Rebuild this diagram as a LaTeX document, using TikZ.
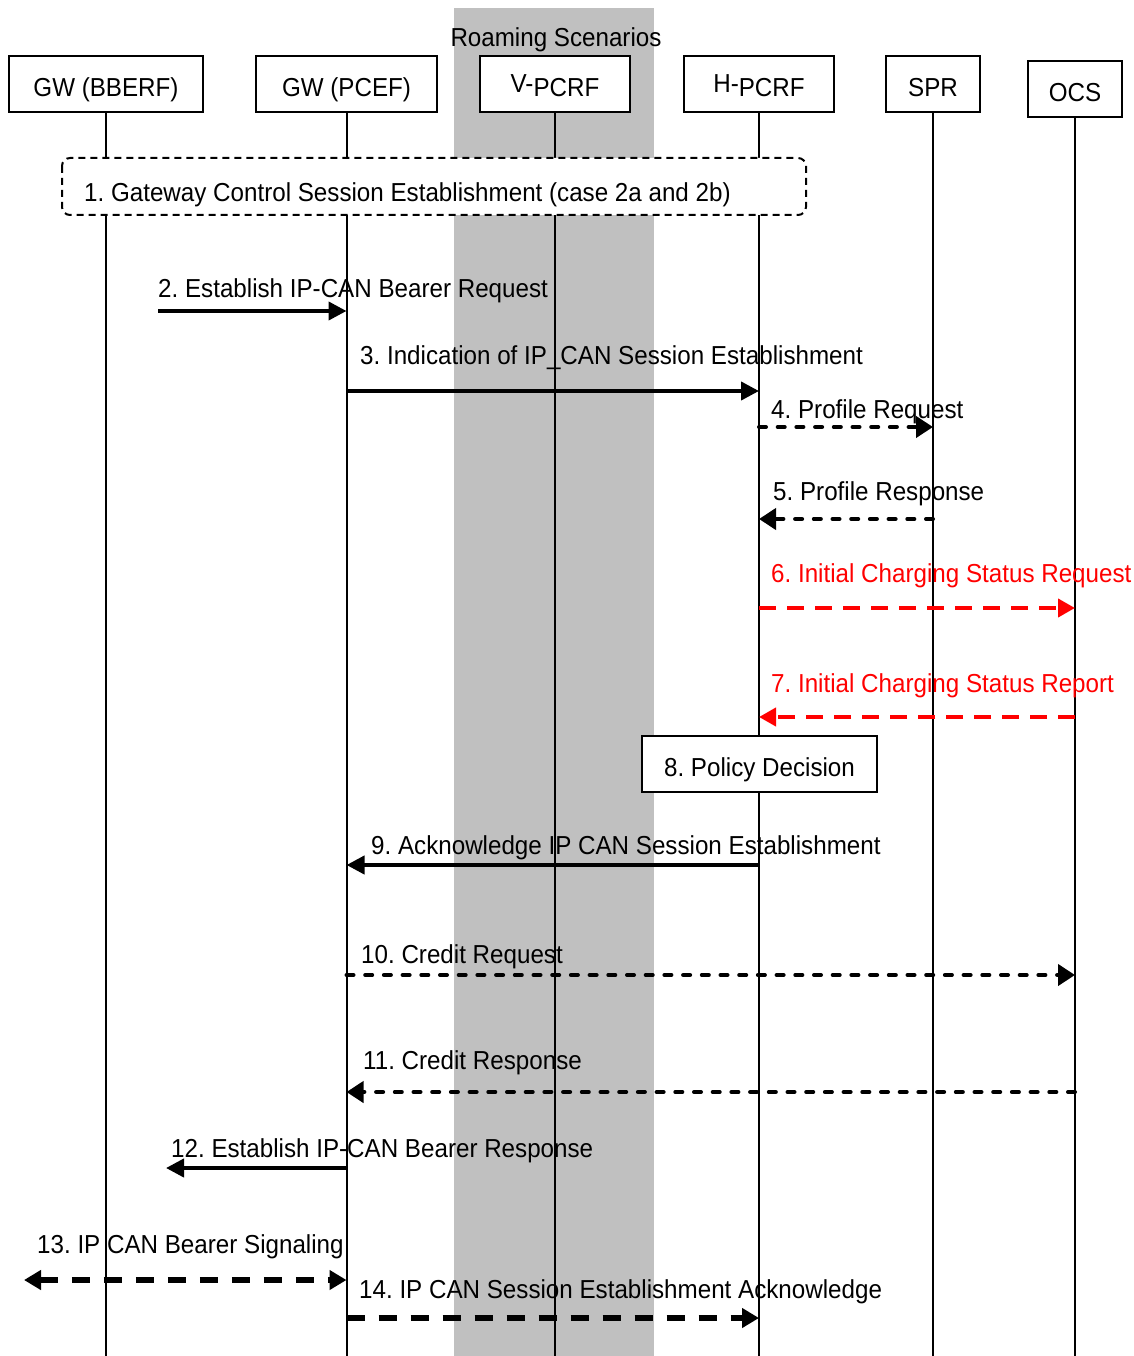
\documentclass[tikz,border=0pt]{standalone}
\usepackage{fontspec}
\setmainfont{Liberation Sans}[FakeStretch=0.93]
\usetikzlibrary{arrows.meta}
\definecolor{bandgray}{RGB}{192,192,192}
\definecolor{msgred}{RGB}{255,0,0}
\frenchspacing
\begin{document}
\begin{tikzpicture}[x=1pt,y=-1pt,
  every node/.style={font=\fontsize{26}{30}\selectfont, inner sep=0pt},
  entity/.style={draw, line width=2pt, fill=white, minimum height=56pt,
    text height=26pt, text depth=0pt},
  lifeline/.style={line width=2pt},
  lbl/.style={anchor=base west},
  solidmsg/.style={line width=4pt, -{Triangle[length=18pt,width=18pt]}},
  shortdash/.style={line width=4pt, line cap=round, dash pattern=on 7pt off 11.7pt,
    -{Triangle[length=17pt,width=21pt]}},
  reddash/.style={msgred, line width=4pt, dash pattern=on 17pt off 11pt,
    -{Triangle[length=17pt,width=18pt]}},
  longdash/.style={line width=5.5pt, dash pattern=on 18pt off 14pt,
    -{Triangle[length=17pt,width=19pt]}},
]
\useasboundingbox (0,0) rectangle (1134,1356);
\coordinate (bottom) at (0,1356);

% roaming band
\fill[bandgray] (454,8) rectangle (654,1356);
\node[anchor=base] (roam) at (556,47) {Roaming Scenarios};

% participants
\node[entity, minimum width=194pt] (bberf) at (106,84) {GW (BBERF)};
\node[entity, minimum width=181pt] (pcef)  at (346.5,84) {GW (PCEF)};
\node[entity, minimum width=150pt] (vpcrf) at (555,84) {\raisebox{4pt}{V-}PCRF};
\node[entity, minimum width=150pt] (hpcrf) at (759,84) {\raisebox{4pt}{H-}PCRF};
\node[entity, minimum width=94pt]  (spr)   at (933,84) {SPR};
\node[entity, minimum width=94pt]  (ocs)   at (1075,89) {OCS};

% lifelines
\foreach \p in {bberf,pcef,vpcrf,hpcrf,spr,ocs}
  \draw[lifeline] (\p.south) -- (\p.south |- bottom);

% step 1: gateway control session
\draw[line width=2pt, dash pattern=on 7pt off 5pt, rounded corners=8pt, fill=white]
  (62,158) rectangle (806,215);
\node[lbl] (l1) at (84,201.5) {1. Gateway Control Session Establishment (case 2a and 2b)};

% step 2
\node[lbl] (l2) at (158,297) {2. Establish IP-CAN Bearer Request};
\coordinate (s2) at (158,311);
\draw[solidmsg] (s2) -- (pcef.south |- s2);

% step 3
\node[lbl] (l3) at (360,364) {3. Indication of IP\_CAN Session Establishment};
\coordinate (y3) at (0,391);
\draw[solidmsg] (pcef.south |- y3) -- (hpcrf.south |- y3);

% step 4
\node[lbl] (l4) at (771,418) {4. Profile Request};
\coordinate (y4) at (0,427);
\draw[shortdash] (hpcrf.south |- y4) -- (spr.south |- y4);

% step 5
\node[lbl] (l5) at (773,500) {5. Profile Response};
\coordinate (y5) at (0,519);
\draw[shortdash] (spr.south |- y5) -- (hpcrf.south |- y5);

% step 6
\node[lbl, text=msgred] (l6) at (771,582) {6. Initial Charging Status Request};
\coordinate (y6) at (0,608);
\draw[reddash] (hpcrf.south |- y6) -- (ocs.south |- y6);

% step 7
\node[lbl, text=msgred] (l7) at (771,692) {7. Initial Charging Status Report};
\coordinate (y7) at (0,717);
\draw[reddash] (ocs.south |- y7) -- (hpcrf.south |- y7);

% step 8
\node[entity, minimum width=235pt, text height=25pt] (pd) at (759.5,764) {8. Policy Decision};

% step 9
\node[lbl] (l9) at (371,854) {9. Acknowledge IP CAN Session Establishment};
\coordinate (y9) at (0,865);
\draw[solidmsg] (hpcrf.south |- y9) -- (pcef.south |- y9);

% step 10
\node[lbl] (l10) at (361,963) {10. Credit Request};
\coordinate (y10) at (0,975);
\draw[shortdash] (pcef.south |- y10) -- (ocs.south |- y10);

% step 11
\node[lbl] (l11) at (363,1069) {11. Credit Response};
\coordinate (y11) at (0,1092);
\draw[shortdash] (ocs.south |- y11) -- (pcef.south |- y11);

% step 12
\node[lbl] (l12) at (171,1157) {12. Establish IP-CAN Bearer Response};
\coordinate (e12) at (166,1168);
\draw[solidmsg] (pcef.south |- e12) -- (e12);

% step 13
\node[lbl] (l13) at (37,1253) {13. IP CAN Bearer Signaling};
\coordinate (e13) at (24,1280);
\draw[longdash, {Triangle[length=17pt,width=19pt]}-{Triangle[length=17pt,width=19pt]}]
  (e13) -- (pcef.south |- e13);

% step 14
\node[lbl] (l14) at (359,1298) {14. IP CAN Session Establishment Acknowledge};
\coordinate (y14) at (0,1318);
\draw[longdash] (pcef.south |- y14) -- (hpcrf.south |- y14);
\end{tikzpicture}
\end{document}
